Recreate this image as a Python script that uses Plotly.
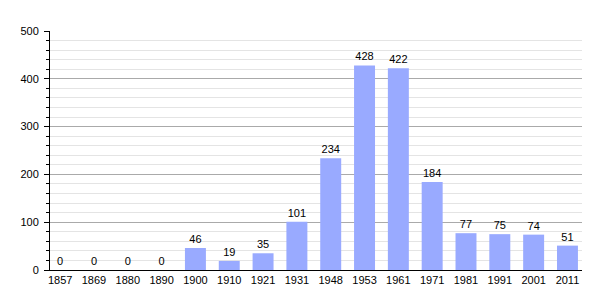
import plotly.graph_objects as go

years = ["1857", "1869", "1880", "1890", "1900", "1910", "1921", "1931", "1948",
         "1953", "1961", "1971", "1981", "1991", "2001", "2011"]
population = [0, 0, 0, 0, 46, 19, 35, 101, 234, 428, 422, 184, 77, 75, 74, 51]

fig = go.Figure(go.Bar(
    x=list(range(len(years))),
    y=population,
    text=[str(v) for v in population],
    textposition="outside",
    cliponaxis=False,
    textfont=dict(family="Liberation Sans, Arial", size=11, color="#000000"),
    marker=dict(color="#99aaff", line=dict(width=0)),
    width=0.62,
))

fig.update_layout(
    width=605, height=300,
    margin=dict(l=50, r=23, t=31, b=30),
    paper_bgcolor="white", plot_bgcolor="white",
    showlegend=False,
    font=dict(family="Liberation Sans, Arial", size=11, color="#000000"),
)
fig.update_xaxes(
    tickmode="array", tickvals=list(range(len(years))), ticktext=years,
    range=[-0.3, 15.43], showline=True, linecolor="#000000", linewidth=1,
    showgrid=False, ticks="", zeroline=False,
    tickfont=dict(size=11, color="#000000"),
)
fig.update_yaxes(
    range=[0, 500], tickvals=[0, 100, 200, 300, 400, 500],
    showline=True, linecolor="#000000", linewidth=1,
    showgrid=True, gridcolor="#aaaaaa", gridwidth=1,
    ticks="outside", ticklen=5, tickcolor="#000000", tickwidth=1,
    ticklabelstandoff=3,
    zeroline=False,
    minor=dict(dtick=20, showgrid=True, gridcolor="#e4e4e4", gridwidth=1,
               ticks="outside", ticklen=3, tickcolor="#000000"),
    tickfont=dict(size=11, color="#000000"),
)

fig.write_html("out.html")
